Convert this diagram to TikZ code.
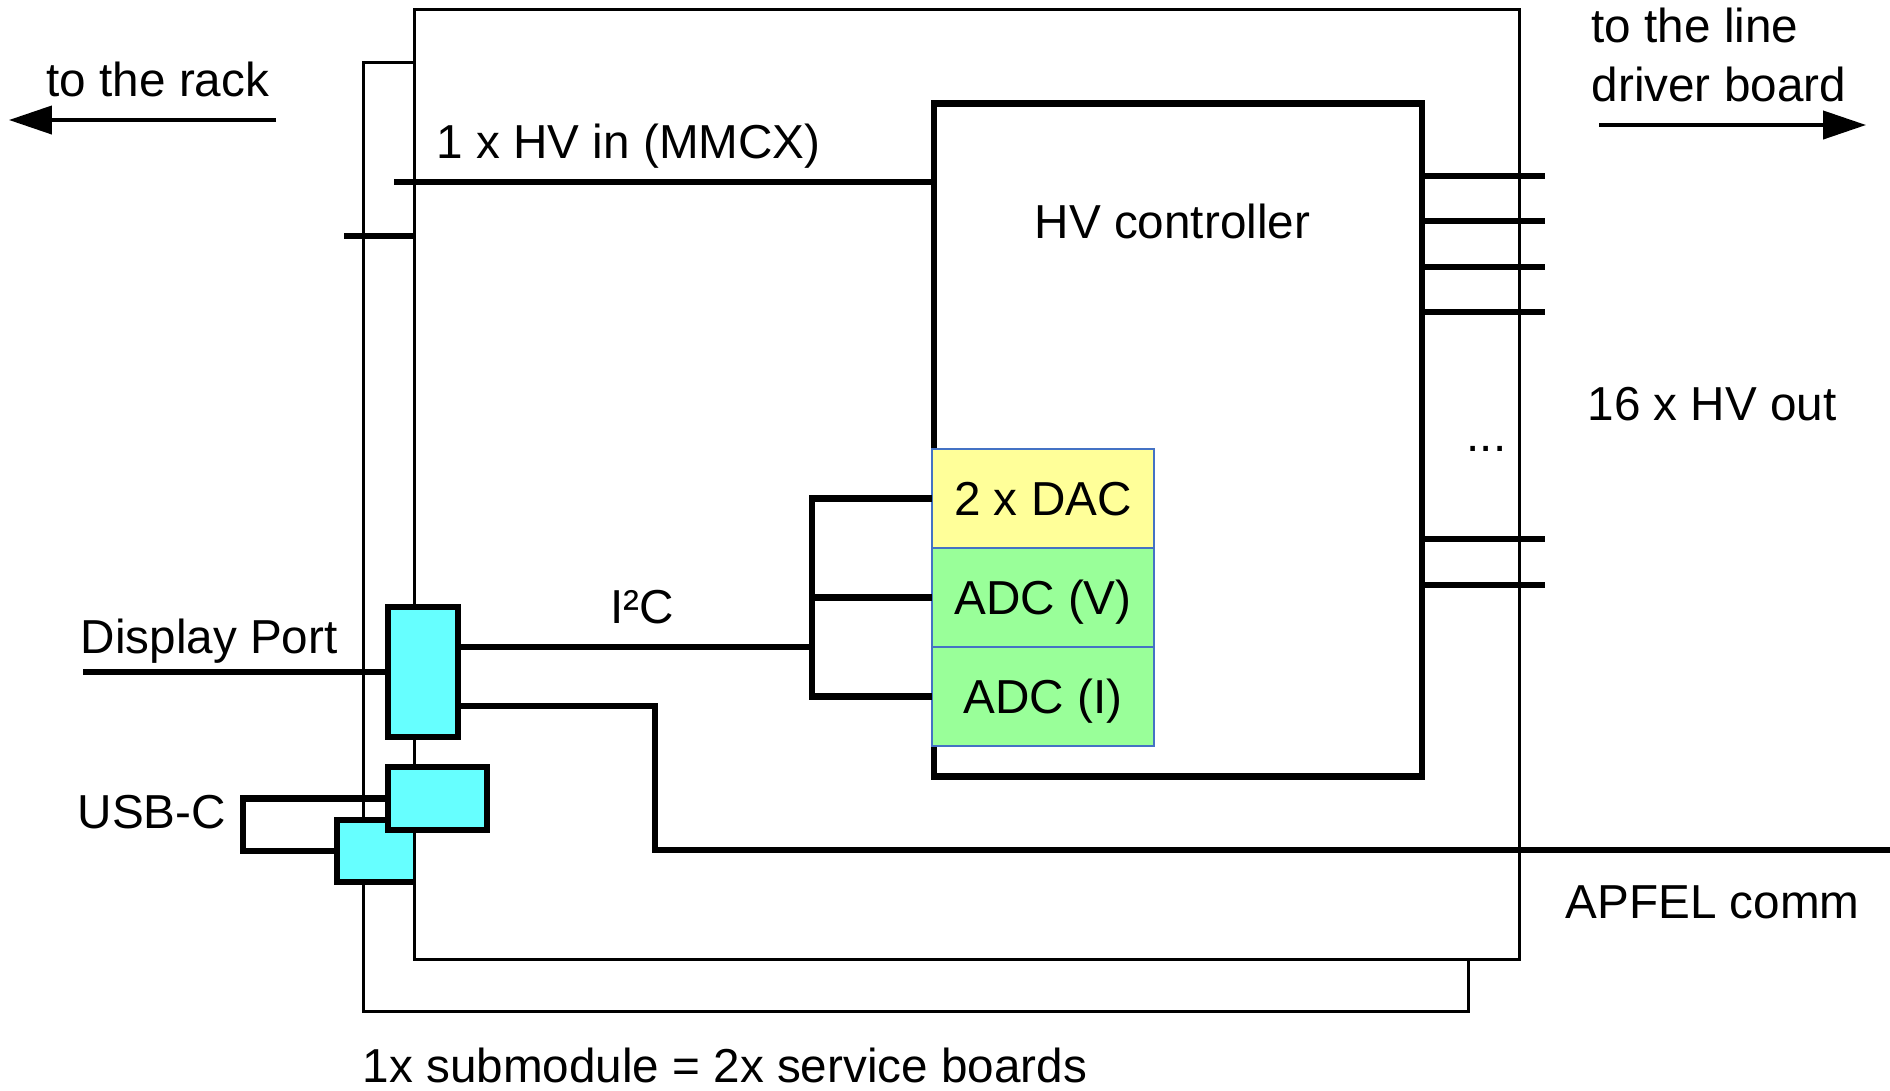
\documentclass[tikz,border=0pt]{standalone}
\usepackage{fontspec}
\setmainfont{Liberation Sans}
\usetikzlibrary{arrows.meta}
\definecolor{cyanbox}{HTML}{66FFFF}
\definecolor{dacfill}{HTML}{FFFF99}
\definecolor{adcfill}{HTML}{99FF99}
\definecolor{chipline}{HTML}{4472C4}
\begin{document}
\begin{tikzpicture}[x=0.01cm,y=-0.01cm,
  thinl/.style={line width=1pt},
  thickl/.style={line width=1.9pt},
  lbl/.style={inner sep=0pt, anchor=base west, font=\fontsize{13.55pt}{16pt}\selectfont},
  board/.style={draw, thinl, inner sep=0pt, outer sep=0pt},
  conn/.style={draw, thickl, fill=cyanbox, inner sep=0pt, outer sep=0pt},
  chip/.style={draw=chipline, line width=0.4pt, inner sep=0pt, outer sep=0pt,
    minimum width=2.22cm, minimum height=0.99cm, text height=9.6pt, text depth=0pt,
    font=\fontsize{13.55pt}{16pt}\selectfont},
  wire/.style={thickl},
  arr/.style={thinl, -{Triangle[length=12.2pt, width=8pt]}}
]
\useasboundingbox (0,0) rectangle (1890,1090);

% back board
\node[board, minimum width=11.04cm, minimum height=9.48cm] (back) at (916,537) {};
% lower USB-C connector (behind front board)
\node[conn, minimum width=1.03cm, minimum height=0.62cm] (usb2) at (388.5,851) {};
% front board
\node[board, fill=white, minimum width=11.04cm, minimum height=9.49cm] (front) at (967,484.5) {};
% HV controller
\node[draw, thickl, inner sep=0pt, outer sep=0pt, minimum width=4.88cm, minimum height=6.72cm] (hvc) at (1178,440) {};

% coordinates for free ends
\coordinate (hvin) at (394,182);
\coordinate (stub) at (344,236);
\coordinate (o1) at (1545,176);
\coordinate (o2) at (1545,221);
\coordinate (o3) at (1545,267);
\coordinate (o4) at (1545,312);
\coordinate (o5) at (1545,539);
\coordinate (o6) at (1545,585);
\coordinate (busJ) at (812,647);
\coordinate (turn) at (655,706);
\coordinate (apfel) at (1890,850);
\coordinate (dpL) at (83,672);
\coordinate (uloop) at (243,825);
\coordinate (rackS) at (276,120);
\coordinate (rackE) at (9,120);
\coordinate (ldS) at (1599,125);
\coordinate (ldE) at (1866,125);

% chips inside the HV controller
\node[chip, fill=dacfill] (dac) at (1043,498.5) {2 x DAC};
\node[chip, fill=adcfill] (adcv) at (1043,597.5) {ADC (V)};
\node[chip, fill=adcfill] (adci) at (1043,696.5) {ADC (I)};

% wires
\draw[wire] (hvin) -- (hvin -| hvc.west);
\draw[wire] (stub) -- (stub -| front.west);
\foreach \o in {o1,o2,o3,o4,o5,o6}
  \draw[wire] (\o -| hvc.east) -- (\o);
\draw[wire] (dac.west) -| (busJ) |- (adci.west);
\draw[wire] (busJ |- adcv.west) -- (adcv.west);

% connectors on the front board
\node[conn, minimum width=0.70cm, minimum height=1.30cm] (dp) at (423,672) {};
\node[conn, minimum width=0.99cm, minimum height=0.63cm] (usb1) at (437.5,798.5) {};

\draw[wire] (dpL) -- (dp.west);
\draw[wire] (busJ -| dp.east) -- (busJ);
\draw[wire] (turn -| dp.east) -- (turn) |- (apfel);
\draw[wire] (usb1.west) -| (uloop) |- (usb2.west);

% arrows
\draw[arr] (rackS) -- (rackE);
\draw[arr] (ldS) -- (ldE);

% labels
\node[lbl] (t_rack) at (46,96) {to the rack};
\node[lbl] (t_hvin) at (436,158) {1 x HV in (MMCX)};
\node[lbl] (t_hvc) at (1034,238) {HV controller};
\node[lbl] (t_line1) at (1591,42) {to the line};
\node[lbl] (t_line2) at (1591,101) {driver board};
\node[lbl] (t_out) at (1587,420) {16 x HV out};
\node[lbl] (t_dots) at (1466,451) {...};
\node[lbl] (t_dp) at (80,653) {Display Port};
\node[lbl] (t_i2c) at (610,623) {I²C};
\node[lbl] (t_usb) at (77,828) {USB-C};
\node[lbl] (t_apfel) at (1565,918) {APFEL comm};
\node[lbl] (t_sub) at (362,1082) {1x submodule = 2x service boards};
\end{tikzpicture}
\end{document}
